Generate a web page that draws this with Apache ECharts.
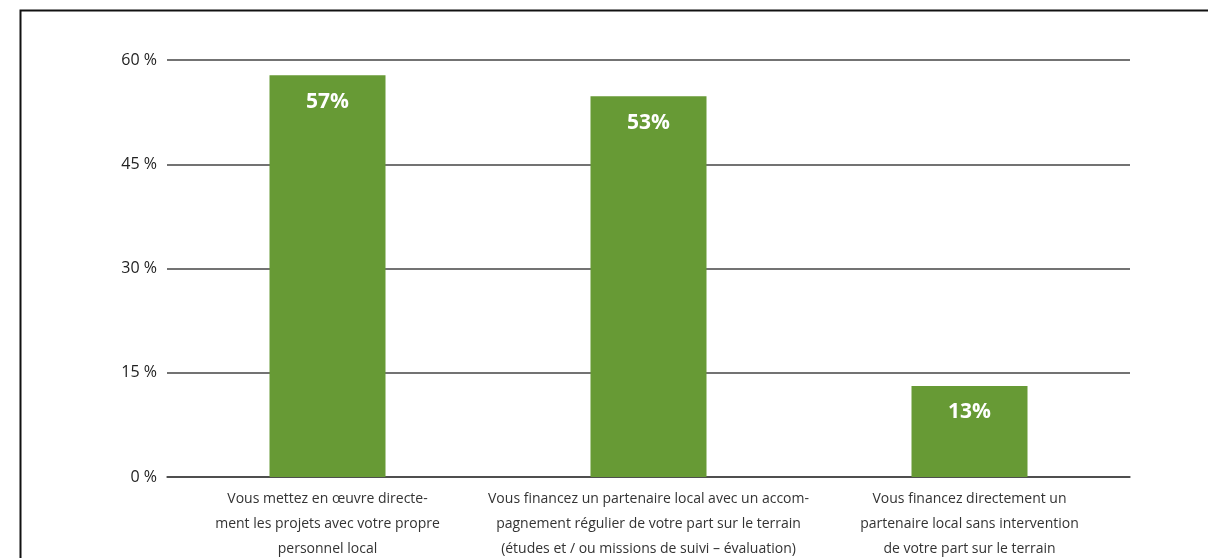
<!DOCTYPE html>
<html>
<head>
<meta charset="utf-8">
<script src="https://cdn.jsdelivr.net/npm/echarts@6/dist/echarts.min.js"></script>
<style>
html,body{margin:0;padding:0;background:#fff;}
#chart{width:1208px;height:558px;}
</style>
</head>
<body>
<div id="chart"></div>
<script>
const categories = [
  "Vous mettez en œuvre directe-\nment les projets avec votre propre\npersonnel local",
  "Vous financez un partenaire local avec un accom-\npagnement régulier de votre part sur le terrain\n(études et / ou missions de suivi – évaluation)",
  "Vous financez directement un\npartenaire local sans intervention\nde votre part sur le terrain"
];
const barValues = [57.8, 54.8, 13.1];
const barLabels = ["57%", "53%", "13%"];
const yTicks = { min: 0, max: 60, interval: 15 };

const chart = echarts.init(document.getElementById('chart'));
chart.setOption({
  animation: false,
  backgroundColor: '#fff',
  textStyle: { fontFamily: 'Open Sans' },
  graphic: [{
    type: 'rect',
    shape: { x: 20.5, y: 10.5, width: 1210, height: 600 },
    style: { fill: 'none', stroke: '#111', lineWidth: 2 },
    silent: true, z: -1
  }],
  grid: { left: 167, right: 78, top: 60, bottom: 81, containLabel: false, outerBoundsMode: 'none' },
  xAxis: {
    type: 'category',
    data: categories,
    axisLine: { show: true, lineStyle: { color: '#444', width: 1.5 } },
    axisTick: { show: false },
    axisLabel: {
      interval: 0, hideOverlap: false, margin: 10,
      color: '#333', fontSize: 14, lineHeight: 25, fontFamily: 'Open Sans', align: 'center'
    }
  },
  yAxis: {
    type: 'value',
    min: yTicks.min, max: yTicks.max, interval: yTicks.interval,
    axisLine: { show: false },
    axisTick: { show: false },
    axisLabel: { formatter: '{value} %', color: '#222', fontSize: 16, margin: 10, fontFamily: 'Open Sans' },
    splitLine: { lineStyle: { color: '#444', width: 1.5 } }
  },
  series: [{
    type: 'bar',
    data: barValues,
    barWidth: 116,
    itemStyle: { color: '#679a35' },
    label: {
      show: true, position: 'insideTop', distance: 16,
      formatter: p => barLabels[p.dataIndex],
      color: '#fff', fontWeight: 'bold', fontSize: 21, fontFamily: 'Open Sans'
    }
  }]
});
</script>
</body>
</html>
